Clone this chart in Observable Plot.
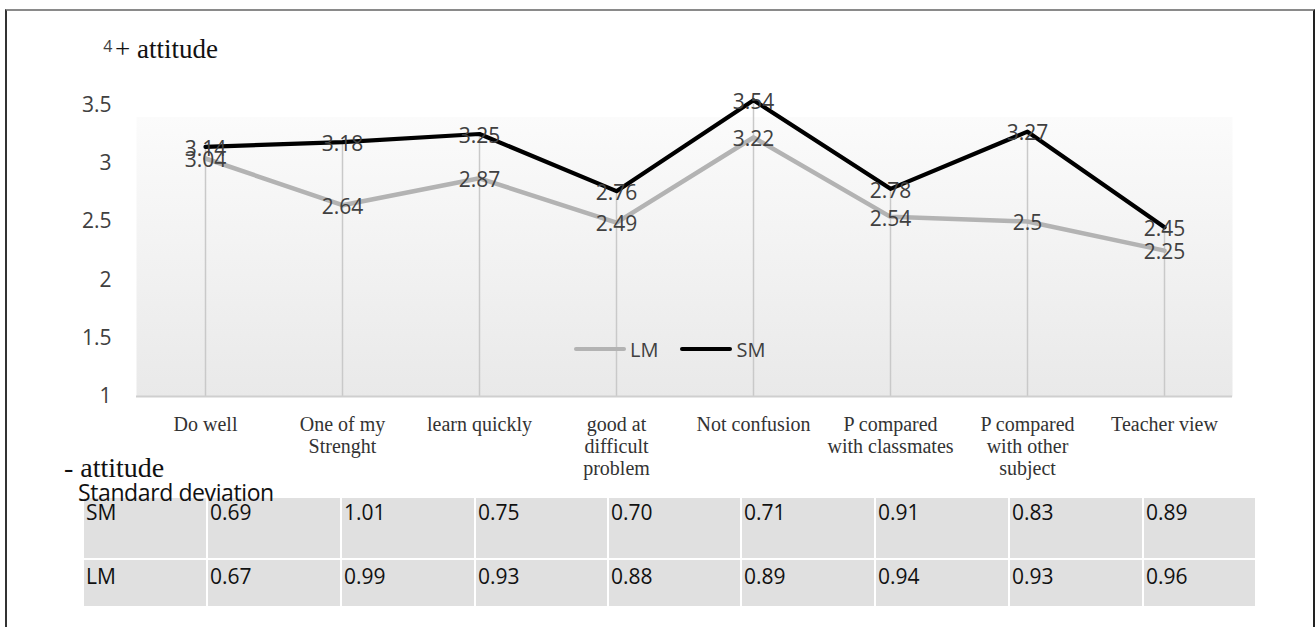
<!DOCTYPE html>
<html>
<head>
<meta charset="utf-8">
<script src="https://cdn.jsdelivr.net/npm/d3@7"></script>
<script src="https://cdn.jsdelivr.net/npm/@observablehq/plot@0.6"></script>
<style>
  html, body { margin: 0; padding: 0; background: #fff; }
  #wrap { position: relative; width: 1315px; height: 627px; overflow: hidden; }
  #border { position: absolute; left: 5px; top: 9px; width: 1306px; height: 616px;
            border-top: 2px solid #8a8a8a; border-left: 2px solid #333; border-right: 2px solid #222; }
  #chart { position: absolute; left: 0; top: 0; }
  .abs { position: absolute; white-space: nowrap; line-height: 1; }
  #ytitle { left: 115px; top: 34px; font: 27px "Liberation Serif", "Times New Roman", serif; color: #111; }
  #neg { left: 64px; top: 452px; font: 28px "Liberation Serif", "Times New Roman", serif; color: #111; z-index: 3; }
  #sdlabel { left: 78px; top: 476px; font: 23px "Open Sans", sans-serif; color: #111; z-index: 3; letter-spacing: -0.4px; }
  #legend { left: 574px; top: 337px; height: 24px; display: flex; align-items: center; font: 20px "Open Sans", sans-serif; color: #404040; }
  #legend .sw { width: 52px; height: 4px; border-radius: 2px; margin-right: 4px; }
  #legend .it { display: flex; align-items: center; margin-right: 22px; }
  #sd { position: absolute; left: 84px; top: 498px; border-collapse: collapse; table-layout: fixed; z-index: 2; }
  #sd td { background: #e0e0e0; border-right: 2px solid #fff; border-bottom: 2px solid #fff; padding: 4px 0 0 2px;
           font: 21px "Open Sans", sans-serif; line-height: 1; color: #111; vertical-align: top; box-sizing: border-box; }
  #sd tr.r1 td { height: 61px; }
  #sd tr.r2 td { height: 48px; padding-top: 6px; }
</style>
</head>
<body>
<div id="wrap">
  <div id="border"></div>
  <div id="chart"></div>
  <div class="abs" id="ytitle">+ attitude</div>
  <div class="abs" id="legend"></div>
  <div class="abs" id="neg">- attitude</div>
  <div class="abs" id="sdlabel">Standard deviation</div>
  <table id="sd"></table>
</div>
<script>
// ---- data ----
const categories = ["Do well", "One of my Strenght", "learn quickly", "good at difficult problem",
  "Not confusion", "P compared with classmates", "P compared with other subject", "Teacher view"];
const tickLabels = ["Do well", "One of my\nStrenght", "learn quickly", "good at\ndifficult\nproblem",
  "Not confusion", "P compared\nwith classmates", "P compared\nwith other\nsubject", "Teacher view"];
const smValues = [3.14, 3.18, 3.25, 2.76, 3.54, 2.78, 3.27, 2.45];
const lmValues = [3.04, 2.64, 2.87, 2.49, 3.22, 2.54, 2.5, 2.25];
const yTicks = [1, 1.5, 2, 2.5, 3, 3.5];
const topTick = 4;
const seriesNames = ["LM", "SM"];
const seriesColors = ["#b3b3b3", "#000000"];
const sdSM = ["0.69", "1.01", "0.75", "0.70", "0.71", "0.91", "0.83", "0.89"];
const sdLM = ["0.67", "0.99", "0.93", "0.88", "0.89", "0.94", "0.93", "0.96"];
const colWidths = [123, 134, 134, 133, 133, 134, 134, 134, 113];

// ---- build rows ----
const lm = categories.map((c, i) => ({cat: c, v: lmValues[i], s: "LM"}));
const sm = categories.map((c, i) => ({cat: c, v: smValues[i], s: "SM"}));
const drops = categories.map((c, i) => ({cat: c, top: Math.max(lmValues[i], smValues[i])}));
const labelOf = new Map(categories.map((c, i) => [c, tickLabels[i]]));

const sans = "'Open Sans', sans-serif";
const serif = "'Liberation Serif', 'Times New Roman', serif";

const chart = Plot.plot({
  width: 1315,
  height: 470,
  marginLeft: 136,
  marginRight: 83,
  marginTop: 46,
  marginBottom: 74,
  style: {background: "transparent", color: "#404040", overflow: "visible"},
  x: {type: "point", domain: categories, padding: 0.5, axis: null},
  y: {domain: [1, 4], axis: null},
  marks: [
    Plot.frame({fill: "url(#bggrad)", stroke: null}),
    Plot.ruleX(drops, {x: "cat", y1: 1, y2: "top", stroke: "#c9c9c9", strokeWidth: 1.5}),
    Plot.ruleY([1], {stroke: "#cfcfcf", strokeWidth: 2}),
    Plot.axisY({ticks: yTicks, tickSize: 0, tickPadding: 25, fontSize: 21, fontFamily: sans, color: "#404040",
      tickFormat: d => String(d), label: null}),
    Plot.text([String(topTick)], {y: () => topTick, frameAnchor: "left", dx: -24, textAnchor: "end",
      fontSize: 16, fontFamily: sans, fill: "#404040"}),
    Plot.axisX({tickSize: 0, tickPadding: 19, fontSize: 20, fontFamily: serif, lineHeight: 1.1,
      color: "#333", tickFormat: d => labelOf.get(d), label: null}),
    Plot.line(lm, {x: "cat", y: "v", stroke: seriesColors[0], strokeWidth: 4.5}),
    Plot.line(sm, {x: "cat", y: "v", stroke: seriesColors[1], strokeWidth: 4.2}),
    Plot.text(lm, {x: "cat", y: "v", text: d => String(d.v), fontSize: 21, fontFamily: sans, fill: "#404040", dy: 2}),
    Plot.text(sm, {x: "cat", y: "v", text: d => String(d.v), fontSize: 21, fontFamily: sans, fill: "#404040", dy: 2})
  ]
});

d3.select(chart).insert("defs", ":first-child").html(
  `<linearGradient id="bggrad" x1="0" y1="0" x2="0" y2="1">
     <stop offset="0" stop-color="#ffffff"/>
     <stop offset="0.2" stop-color="#ffffff"/>
     <stop offset="0.2" stop-color="#fbfbfb"/>
     <stop offset="1" stop-color="#e9e9e9"/>
   </linearGradient>`);
document.getElementById("chart").appendChild(chart);

// legend
const legend = d3.select("#legend");
seriesNames.forEach((n, i) => {
  const it = legend.append("div").attr("class", "it");
  it.append("div").attr("class", "sw").style("background", seriesColors[i]);
  it.append("span").text(n);
});

// table
const table = d3.select("#sd");
const cg = table.append("colgroup");
colWidths.forEach(w => cg.append("col").style("width", w + "px"));
table.style("width", d3.sum(colWidths) + "px");
[["SM", sdSM, "r1"], ["LM", sdLM, "r2"]].forEach(([name, vals, cls]) => {
  const tr = table.append("tr").attr("class", cls);
  tr.append("td").text(name);
  vals.forEach(v => tr.append("td").text(v));
});
</script>
</body>
</html>
